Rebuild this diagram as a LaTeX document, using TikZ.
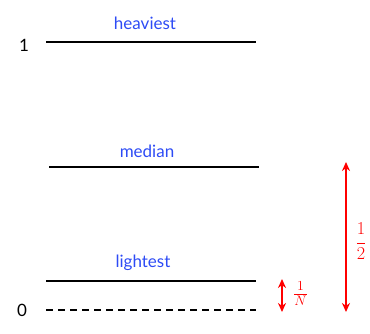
\documentclass[tikz,border=0pt]{standalone}
\usepackage{fontspec}
\setsansfont{Lato}
\usetikzlibrary{arrows.meta}
\definecolor{lvlblue}{RGB}{45,75,245}
\begin{document}
\begin{tikzpicture}[x=1pt, y=-1pt, font=\sffamily\fontsize{17}{20}\selectfont, line join=round, >={Stealth[length=9pt,width=8pt]},
			declare function={xa=46;xb=256;}]
			\useasboundingbox (0,0) rectangle (370,334);
			\tikzset{level/.style={line width=2.4pt}, gap/.style={red, <->, line width=2pt}}
			\draw[level] (xa,42) coordinate (h1) -- (xb,42) coordinate (h2);
			\draw[level] (xa+3,167) coordinate (m1) -- (xb+3,167) coordinate (m2);
			\draw[level] (xa,281) coordinate (l1) -- (xb,281) coordinate (l2);
			\draw[level, line width=2pt, dash pattern=on 7pt off 5pt] (xa,310) coordinate (z1) -- (xb,310) coordinate (z2);
			\node[lvlblue] (heavy) at (145,23) {heaviest};
			\node[lvlblue] (med) at (147,151) {median};
			\node[lvlblue] (light) at (143,263) {lightest};
			\node (one) at (24,45) {1};
			\node (zero) at (22,310) {0};
			\coordinate (sa) at (282,279);
			\coordinate (sb) at (282,312);
			\coordinate (ba) at (346,162);
			\coordinate (bb) at (346,312);
			\draw[gap] (sa) -- (sb) node[pos=0.45, right, xshift=6pt, scale=1.15] {$\frac{1}{N}$};
			\draw[gap] (ba) -- (bb) node[pos=0.53, right, xshift=5pt, scale=1.05] {$\displaystyle\frac{1}{2}$};
		\end{tikzpicture}
\end{document}
